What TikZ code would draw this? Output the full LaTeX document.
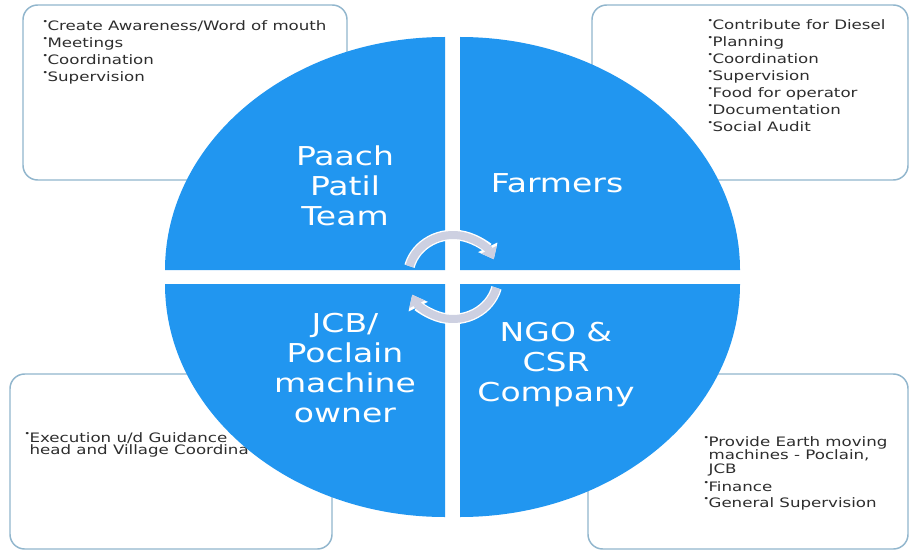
\documentclass[tikz,border=0pt]{standalone}
\usepackage{fontspec}
\usepackage{graphicx}
\usetikzlibrary{arrows.meta,calc}
\newfontfamily\labfont[FakeStretch=1.27]{DejaVu Sans}
\newfontfamily\txtfont[FakeStretch=1.28]{DejaVu Sans}
\definecolor{quadblue}{RGB}{33,150,240}
\definecolor{boxline}{RGB}{145,182,205}
\definecolor{bodytext}{RGB}{45,45,45}
\definecolor{cyclefill}{RGB}{205,208,225}
\newcommand\bul{\makebox[4pt][l]{\raisebox{0.45em}{\scalebox{0.6}{•}}}}
\begin{document}
\begin{tikzpicture}[x=0.75pt,y=-0.75pt,
  infobox/.style={draw=boxline, line width=1.1pt, rounded corners=11pt, fill=white},
  quad/.style={fill=quadblue},
  quadlabel/.style={text=white, font=\labfont\fontsize{19.5}{22.5}\selectfont, align=center, inner sep=0pt},
  bodylist/.style={text=bodytext, font=\txtfont\fontsize{9.75}{12.75}\selectfont, align=left, inner sep=0pt, anchor=north west},
  cyc/.style={draw=cyclefill, line width=6pt, -{Triangle[length=8pt,width=12.5pt]}},
  cycedge/.style={draw=white, line width=8pt, -{Triangle[length=10pt,width=15.5pt]}}
]
\useasboundingbox (0,0) rectangle (910,556);
\fill[white] (0,0) rectangle (910,556);

% side boxes with their task lists
\draw[infobox] (23,5) rectangle (347,180);
\draw[infobox] (592,5) rectangle (908,180);
\draw[infobox] (10,374) rectangle (332,549);
\draw[infobox] (588,374) rectangle (908,549);

\node[bodylist] (tltext) at (42,20)
  {\bul Create Awareness/Word of mouth\\\bul Meetings\\\bul Coordination\\\bul Supervision};
\node[bodylist] (trtext) at (707,19)
  {\bul Contribute for Diesel\\\bul Planning\\\bul Coordination\\\bul Supervision\\\bul Food for operator\\\bul Documentation\\\bul Social Audit};
\node[bodylist, font=\txtfont\fontsize{9.75}{7.9}\selectfont] (bltext) at (24,432)
  {\bul Execution u/d Guidance\\\hspace*{4pt}head and Village Coordina};
\node[bodylist, font=\txtfont\fontsize{9.75}{10.1}\selectfont] (brtext) at (703,436)
  {\bul Provide Earth moving\\\hspace*{4pt}machines - Poclain,\\\hspace*{4pt}JCB\\[3.5pt]\bul Finance\\[2pt]\bul General Supervision};

% four quarter-ellipse segments
\fill[quad] (445,270) -- (165,270) arc[start angle=180, end angle=270, x radius=280, y radius=233] -- cycle;
\fill[quad] (460,270) -- (460,37) arc[start angle=270, end angle=360, x radius=280, y radius=233] -- cycle;
\fill[quad] (460,284) -- (740,284) arc[start angle=0, end angle=90, x radius=280, y radius=233] -- cycle;
\fill[quad] (445,284) -- (445,517) arc[start angle=90, end angle=180, x radius=280, y radius=233] -- cycle;

\node[quadlabel] (team) at (345,186) {Paach\\Patil\\Team};
\node[quadlabel] (farmers) at (557,183) {Farmers};
\node[quadlabel] (owner) at (345,368) {JCB/\\Poclain\\machine\\owner};
\node[quadlabel] (csr) at (556,365) {NGO \&\\CSR\\Company};

% circular arrows in the middle
\coordinate (hub) at (453,277);
\draw[cycedge] ($(hub)+(-165:45 and 42)$) arc[start angle=-165, end angle=-25, x radius=45, y radius=42];
\draw[cyc] ($(hub)+(-165:45 and 42)$) arc[start angle=-165, end angle=-25, x radius=45, y radius=42];
\draw[cycedge] ($(hub)+(15:45 and 42)$) arc[start angle=15, end angle=155, x radius=45, y radius=42];
\draw[cyc] ($(hub)+(15:45 and 42)$) arc[start angle=15, end angle=155, x radius=45, y radius=42];
\end{tikzpicture}
\end{document}
